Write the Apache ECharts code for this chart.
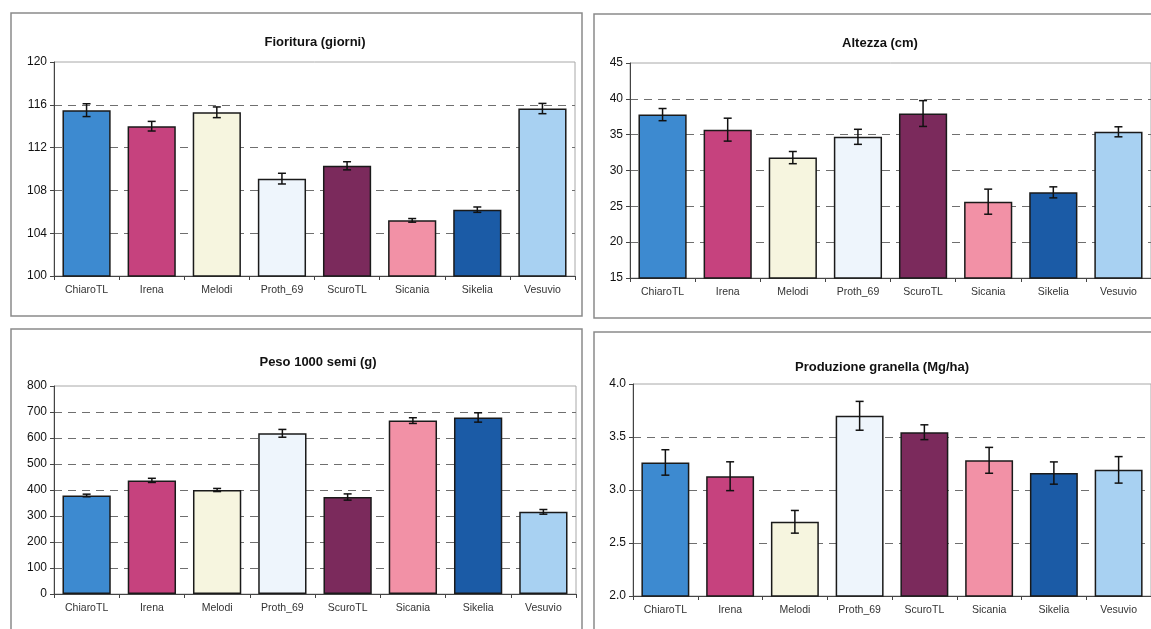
<!DOCTYPE html>
<html>
<head>
<meta charset="utf-8">
<script src="https://cdn.jsdelivr.net/npm/echarts@6/dist/echarts.min.js"></script>
<style>
  html, body { margin: 0; padding: 0; background: #ffffff; }
  #chart { width: 1151px; height: 629px; }
</style>
</head>
<body>
<div id="chart"></div>
<script>
// Cultivar names shared by all four panels
const categories = ['ChiaroTL', 'Irena', 'Melodi', 'Proth_69', 'ScuroTL', 'Sicania', 'Sikelia', 'Vesuvio'];

// Fioritura (giorni): means and standard errors
const fiorituraMean = [115.5, 114.0, 115.3, 109.1, 110.3, 105.2, 106.2, 115.65];
const fiorituraErr  = [0.6, 0.45, 0.5, 0.5, 0.38, 0.17, 0.25, 0.48];

// Altezza (cm)
const altezzaMean = [37.8, 35.7, 31.8, 34.7, 37.95, 25.65, 26.95, 35.4];
const altezzaErr  = [0.85, 1.6, 0.85, 1.05, 1.8, 1.75, 0.77, 0.7];

// Peso 1000 semi (g)
const pesoMean = [379, 437, 400, 618, 373, 667, 679, 316];
const pesoErr  = [5, 8, 6, 15, 12, 11, 18, 9];

// Produzione granella (Mg/ha)
const produzioneMean = [3.26, 3.13, 2.70, 3.70, 3.545, 3.28, 3.16, 3.19];
const produzioneErr  = [0.12, 0.136, 0.107, 0.136, 0.07, 0.122, 0.105, 0.125];

// Fill colour for each cultivar
const barColors = ['#3d8ad0', '#c6427e', '#f6f5df', '#eef5fc', '#7b2a5c', '#f291a6', '#1b5ba6', '#a8d1f2'];

const panels = [
  { title: 'Fioritura (giorni)', mean: fiorituraMean, err: fiorituraErr, min: 100, max: 120, interval: 4, dec: 0,
    grid: { left: 54, top: 62, width: 521, height: 214 }, titlePos: [315, 42],
    frame: { x: 11, y: 13, width: 571, height: 303 } },
  { title: 'Altezza (cm)', mean: altezzaMean, err: altezzaErr, min: 15, max: 45, interval: 5, dec: 0,
    grid: { left: 630, top: 63, width: 526, height: 215 }, titlePos: [880, 43],
    frame: { x: 594, y: 14, width: 620, height: 304 } },
  { title: 'Peso 1000 semi (g)', mean: pesoMean, err: pesoErr, min: 0, max: 800, interval: 100, dec: 0,
    grid: { left: 54, top: 386, width: 522, height: 208 }, titlePos: [318, 362],
    frame: { x: 11, y: 329, width: 571, height: 330 } },
  { title: 'Produzione granella (Mg/ha)', mean: produzioneMean, err: produzioneErr, min: 2, max: 4, interval: 0.5, dec: 1,
    grid: { left: 633, top: 384, width: 522, height: 212 }, titlePos: [882, 367],
    frame: { x: 594, y: 332, width: 620, height: 330 } }
];

const FONT = '"Liberation Sans", Arial, sans-serif';

const grids = [], xAxes = [], yAxes = [], series = [], graphics = [];

panels.forEach((p, k) => {
  graphics.push({
    type: 'rect', shape: p.frame, z: -1,
    style: { fill: '#ffffff', stroke: '#8a8a8a', lineWidth: 1.5 }
  });
  graphics.push({
    type: 'text', x: p.titlePos[0], y: p.titlePos[1],
    style: { text: p.title, fontFamily: FONT, fontWeight: 'bold', fontSize: 13,
             fill: '#111', textAlign: 'center', textVerticalAlign: 'middle' }
  });

  grids.push(Object.assign({ show: true, borderColor: '#a8a8a8', borderWidth: 1,
                             backgroundColor: 'transparent' }, p.grid));

  xAxes.push({
    type: 'category', gridIndex: k, data: categories,
    axisLine: { lineStyle: { color: '#444', width: 1 } },
    axisTick: { show: true, length: 4, lineStyle: { color: '#444' } },
    axisLabel: { color: '#333', fontFamily: FONT, fontSize: 10.5, margin: 9 },
    splitLine: { show: false }
  });

  yAxes.push({
    type: 'value', gridIndex: k, min: p.min, max: p.max, interval: p.interval,
    axisLine: { show: true, lineStyle: { color: '#444', width: 1 } },
    axisTick: { show: true, length: 4, lineStyle: { color: '#444' } },
    axisLabel: { color: '#111', fontFamily: FONT, fontSize: 12, margin: 7,
                 formatter: v => v.toFixed(p.dec) },
    splitLine: { show: true, showMinLine: false, showMaxLine: false,
                 lineStyle: { color: '#6f6f6f', type: [8, 6], width: 1 } }
  });

  series.push({
    type: 'bar', xAxisIndex: k, yAxisIndex: k,
    barCategoryGap: '26%',
    data: p.mean.map((v, i) => ({
      value: v,
      itemStyle: { color: barColors[i], borderColor: '#1a1a1a', borderWidth: 1.5 }
    })),
    silent: true, z: 2
  });

  series.push({
    type: 'custom', xAxisIndex: k, yAxisIndex: k, z: 3, silent: true,
    data: p.mean.map((v, i) => [i, v - p.err[i], v + p.err[i]]),
    renderItem: (params, api) => {
      const lo = api.coord([api.value(0), api.value(1)]);
      const hi = api.coord([api.value(0), api.value(2)]);
      const half = 4;
      const st = { stroke: '#111', lineWidth: 1.5, fill: null };
      return {
        type: 'group',
        children: [
          { type: 'line', shape: { x1: hi[0], y1: hi[1], x2: lo[0], y2: lo[1] }, style: st },
          { type: 'line', shape: { x1: hi[0] - half, y1: hi[1], x2: hi[0] + half, y2: hi[1] }, style: st },
          { type: 'line', shape: { x1: lo[0] - half, y1: lo[1], x2: lo[0] + half, y2: lo[1] }, style: st }
        ]
      };
    }
  });
});

const chart = echarts.init(document.getElementById('chart'), null, { renderer: 'canvas' });
chart.setOption({
  backgroundColor: '#ffffff',
  animation: false,
  graphic: graphics,
  grid: grids,
  xAxis: xAxes,
  yAxis: yAxes,
  series: series
});
</script>
</body>
</html>
